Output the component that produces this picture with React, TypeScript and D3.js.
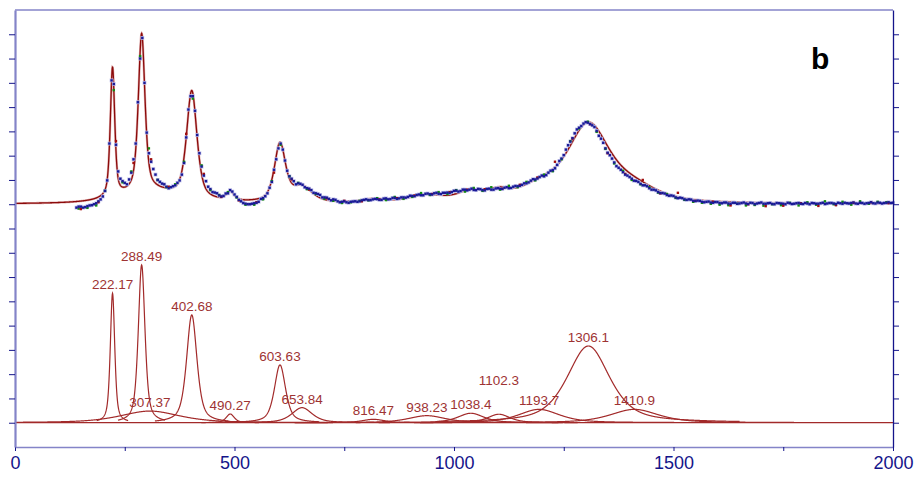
import { useEffect, useRef } from 'react';
import * as d3 from 'd3';

// fitted components (Raman shift, height above baseline, FWHM)
const peakCenters = [222.17, 288.49, 307.37, 402.68, 490.27, 603.63, 653.84, 816.47, 938.23, 1038.4, 1102.3, 1193.7, 1306.1, 1410.9];
const peakHeights = [5.33, 6.5, 0.48, 4.44, 0.36, 2.38, 0.62, 0.14, 0.29, 0.39, 0.35, 0.55, 3.16, 0.55];
const peakWidths = [12, 18, 160, 28, 22, 30, 55, 60, 100, 70, 60, 110, 115, 130];

const lowerBaseline = 1;
const upperBaseline = 10;

// measured spectrum, three acquisitions (blue one sampled twice as densely)
const blueStart = 140;
const blueStep = 10;
const blueObserved = [
  9.86, 9.9, 9.88, 9.95, 10.0, 10.12, 10.32, 10.98, 15.1, 12.45,
  11.05, 10.88, 11.02, 11.85, 14.2, 16.85, 12.95, 11.75, 11.22, 10.92,
  10.82, 10.66, 10.74, 10.88, 11.22, 12.75, 14.45, 13.85, 12.1, 11.18,
  10.72, 10.5, 10.45, 10.32, 10.44, 10.58, 10.4, 10.18, 10.05, 10.0,
  10.02, 10.06, 10.22, 10.33, 10.68, 11.42, 12.3, 12.25, 11.38, 11.05,
  10.82, 10.84, 10.7, 10.64, 10.47, 10.42, 10.28, 10.27, 10.16, 10.18,
  10.08, 10.12, 10.06, 10.11, 10.1, 10.16, 10.2, 10.17, 10.22, 10.18,
  10.23, 10.2, 10.26, 10.22, 10.28, 10.27, 10.35, 10.33, 10.4, 10.37,
  10.44, 10.4, 10.47, 10.42, 10.47, 10.46, 10.55, 10.52, 10.6, 10.57,
  10.64, 10.58, 10.62, 10.57, 10.64, 10.6, 10.66, 10.63, 10.7, 10.67,
  10.75, 10.76, 10.86, 10.9, 11.03, 11.06, 11.18, 11.2, 11.38, 11.48,
  11.78, 12.02, 12.43, 12.72, 13.08, 13.22, 13.38, 13.3, 13.18, 12.82,
  12.53, 12.12, 11.88, 11.57, 11.42, 11.22, 11.12, 10.97, 10.92, 10.78,
  10.74, 10.6, 10.57, 10.46, 10.44, 10.35, 10.34, 10.25, 10.25, 10.18,
  10.19, 10.13, 10.14, 10.08, 10.11, 10.06, 10.09, 10.04, 10.07, 10.02,
  10.06, 10.03, 10.07, 10.01, 10.05, 10.03, 10.07, 10.02, 10.05, 10.0,
  10.04, 10.02, 10.06, 10.01, 10.04, 10.02, 10.05, 10.0, 10.04, 10.02,
  10.06, 10.03, 10.05, 10.01, 10.04, 10.06, 10.03, 10.07, 10.02, 10.05,
  10.04, 10.08, 10.03, 10.06, 10.05, 10.08, 10.06,
];
const blueStart2 = 145;
const blueObserved2 = [
  9.9, 9.86, 9.92, 9.96, 10.04, 10.2, 10.55, 12.5, 14.95, 11.35,
  10.95, 10.82, 11.3, 12.5, 16.0, 15.0, 12.1, 11.45, 11.0, 10.85,
  10.72, 10.7, 10.78, 10.98, 11.7, 13.9, 14.45, 12.85, 11.55, 10.95,
  10.62, 10.48, 10.36, 10.34, 10.45, 10.52, 10.3, 10.12, 10.02, 10.0,
  10.04, 10.1, 10.25, 10.45, 10.92, 11.85, 12.5, 11.8, 11.15, 10.95,
  10.86, 10.8, 10.66, 10.58, 10.45, 10.38, 10.28, 10.22, 10.2, 10.12,
  10.1, 10.08, 10.1, 10.12, 10.12, 10.18, 10.17, 10.2, 10.21, 10.18,
  10.24, 10.21, 10.26, 10.24, 10.28, 10.3, 10.34, 10.38, 10.37, 10.43,
  10.41, 10.45, 10.43, 10.47, 10.48, 10.5, 10.56, 10.54, 10.6, 10.6,
  10.59, 10.63, 10.58, 10.63, 10.6, 10.65, 10.64, 10.68, 10.66, 10.72,
  10.74, 10.8, 10.86, 10.97, 11.02, 11.12, 11.15, 11.3, 11.4, 11.62,
  11.88, 12.25, 12.58, 12.92, 13.15, 13.32, 13.36, 13.25, 13.02, 12.7,
  12.3, 12.02, 11.72, 11.5, 11.32, 11.18, 11.05, 10.96, 10.84, 10.78,
  10.66, 10.6, 10.5, 10.46, 10.38, 10.36, 10.28, 10.27, 10.2, 10.2,
  10.14, 10.15, 10.1, 10.1, 10.07, 10.09, 10.05, 10.07, 10.03, 10.06,
  10.02, 10.05, 10.03, 10.06, 10.0, 10.05, 10.02, 10.04, 10.01, 10.05,
  10.03, 10.0, 10.04, 10.02, 10.05, 10.01, 10.03, 10.05, 10.02, 10.04,
  10.01, 10.05, 10.03, 10.06, 10.02, 10.04, 10.05, 10.03, 10.06, 10.02,
  10.05, 10.04, 10.07, 10.03, 10.06, 10.05,
];
const greenStart = 145;
const greenStep = 20;
const greenObserved = [
  9.82, 9.85, 9.95, 10.55, 14.7, 10.9, 11.35, 16.1, 12.3, 11.0,
  10.7, 10.82, 11.75, 14.35, 11.6, 10.58, 10.38, 10.5, 10.28, 9.98,
  9.98, 10.2, 10.95, 12.45, 11.15, 10.88, 10.62, 10.42, 10.22, 10.14,
  10.05, 10.08, 10.14, 10.16, 10.25, 10.17, 10.3, 10.22, 10.3, 10.46,
  10.38, 10.5, 10.42, 10.58, 10.52, 10.67, 10.55, 10.7, 10.6, 10.76,
  10.7, 10.92, 10.98, 11.22, 11.36, 11.85, 12.6, 13.12, 13.4, 12.98,
  12.28, 11.68, 11.38, 11.0, 10.82, 10.7, 10.48, 10.42, 10.26, 10.18,
  10.1, 10.06, 10.02, 9.98, 9.96, 10.02, 9.95, 9.97, 9.94, 10.0,
  9.96, 10.06, 9.95, 10.08, 9.98, 10.12, 10.0, 10.1, 9.98, 10.12,
  10.02, 10.1, 10.08,
];
const redStart = 150;
const redStep = 40;
const redObserved = [
  9.8, 10.08, 12.6, 11.7, 11.85, 10.72, 12.9, 11.25, 10.3, 10.16,
  10.08, 11.3, 11.02, 10.6, 10.24, 10.14, 10.12, 10.2, 10.25, 10.36,
  10.42, 10.5, 10.6, 10.62, 10.64, 10.8, 11.1, 11.75, 12.7, 13.3,
  12.1, 11.25, 11.0, 10.45, 10.47, 10.14, 10.1, 9.95, 10.0, 9.92,
  9.94, 10.04, 9.93, 9.96, 10.06, 10.08, 10.05,
];

const xTicks = [0, 250, 500, 750, 1000, 1250, 1500, 1750, 2000];
const xLabelled = [0, 500, 1000, 1500, 2000];
const yTicks = [1, 2, 3, 4, 5, 6, 7, 8, 9, 10, 11, 12, 13, 14, 15, 16, 17];

const W = 919;
const H = 477;
const FONT = "Arial, 'Liberation Sans', sans-serif";
const LAVENDER = '#8484c8';
const NAVY = '#14148a';
const FIT = '#8b0a0a';
const COMP = '#a22a2a';

// pseudo-Voigt peak shape
const profile = (v: number, i: number) => {
  const t = (2 * (v - peakCenters[i])) / peakWidths[i];
  const lor = 1 / (1 + t * t);
  const gau = Math.exp(-Math.LN2 * t * t);
  return peakHeights[i] * (0.6 * lor + 0.4 * gau);
};

const App = () => {
  const svgRef = useRef<SVGSVGElement>(null);

  useEffect(() => {
    if (!svgRef.current) return;
    const svg = d3.select(svgRef.current);
    svg.selectAll('*').remove();

    const x = d3.scaleLinear().domain([0, 2000]).range([15, 893]);
    const y = d3.scaleLinear().domain([0, 18]).range([447, 10]);

    const grid = d3.range(0, 2000.25, 0.5);
    const line = d3.line<[number, number]>().x(d => x(d[0])).y(d => y(d[1]));

    // lower: baseline + components
    svg.append('path')
      .attr('d', line([[0, lowerBaseline], [2000, lowerBaseline]]))
      .attr('fill', 'none').attr('stroke', COMP).attr('stroke-width', 1.2);

    peakCenters.forEach((c, i) => {
      const w = peakWidths[i];
      const pts = d3.range(Math.max(0, c - 3 * w), Math.min(2000, c + 3 * w), 0.5)
        .map(v => [v, lowerBaseline + profile(v, i)] as [number, number]);
      svg.append('path')
        .attr('d', line(pts))
        .attr('fill', 'none').attr('stroke', COMP).attr('stroke-width', 1.2);
    });

    // labels, lifted when they would collide with a neighbour
    const boxes: { x0: number; x1: number; y0: number; y1: number }[] = [];
    peakCenters.forEach((c, i) => {
      const cx = x(c);
      let base = y(lowerBaseline + peakHeights[i]) - 4;
      const t = svg.append('text')
        .attr('x', cx)
        .attr('text-anchor', 'middle')
        .style('font-family', FONT)
        .style('font-size', '13.5px')
        .attr('fill', '#9e3333')
        .text(String(c));
      const tw = (t.node() as SVGTextElement).getComputedTextLength();
      const x0 = cx - tw / 2;
      const x1 = cx + tw / 2;
      boxes.forEach(b => {
        const overlap = Math.min(x1, b.x1) - Math.max(x0, b.x0);
        if (overlap > 6 && base > b.y0 && base - 10 < b.y1) base = b.y0 - 14;
      });
      t.attr('y', base);
      boxes.push({ x0, x1, y0: base - 10, y1: base });
    });

    // upper: total fit and observed points
    const fit = grid.map(v => {
      let s = upperBaseline;
      peakCenters.forEach((_, i) => { s += profile(v, i); });
      return [v, s] as [number, number];
    });
    svg.append('path')
      .attr('d', line(fit))
      .attr('fill', 'none').attr('stroke', '#e2b4b4').attr('stroke-width', 2.4);
    svg.append('path')
      .attr('d', line(fit))
      .attr('fill', 'none').attr('stroke', FIT).attr('stroke-width', 1.3);

    const dots = (vals: number[], start: number, step: number, color: string, size: number) => {
      svg.append('g').selectAll('rect')
        .data(vals)
        .enter()
        .append('rect')
        .attr('x', (d, i) => x(start + i * step) - size / 2)
        .attr('y', d => y(d) - size / 2)
        .attr('width', size)
        .attr('height', size)
        .attr('fill', color);
    };

    dots(blueObserved, blueStart, blueStep, '#c0c0ea', 3.8);
    dots(blueObserved2, blueStart2, blueStep, '#c0c0ea', 3.8);
    dots(greenObserved, greenStart, greenStep, '#138a13', 2.4);
    dots(redObserved, redStart, redStep, '#a00d0d', 2.4);
    dots(blueObserved, blueStart, blueStep, '#1a1a96', 2.4);
    dots(blueObserved2, blueStart2, blueStep, '#1a1a96', 2.4);

    // frame and axes
    svg.append('line')
      .attr('x1', 15).attr('x2', 893).attr('y1', 10).attr('y2', 10)
      .attr('stroke', LAVENDER).attr('stroke-width', 1.5);

    const bottom = svg.append('g')
      .attr('transform', 'translate(0,447)')
      .call(d3.axisBottom(x).tickValues(xTicks).tickSize(4).tickSizeOuter(0).tickPadding(5)
        .tickFormat(d => (xLabelled.includes(+d) ? String(d) : '')));
    bottom.select('.domain').attr('stroke', LAVENDER).attr('stroke-width', 1.5);
    bottom.selectAll('.tick line').attr('stroke', NAVY);
    bottom.selectAll('.tick text')
      .attr('fill', NAVY)
      .style('font-family', FONT)
      .style('font-size', '18px');

    const left = svg.append('g')
      .attr('transform', 'translate(15,0)')
      .call(d3.axisLeft(y).tickValues(yTicks).tickSize(6).tickSizeOuter(0).tickFormat(() => ''));
    left.select('.domain').attr('stroke', LAVENDER).attr('stroke-width', 2.2);
    left.selectAll('.tick line').attr('stroke', NAVY);

    const right = svg.append('g')
      .attr('transform', 'translate(893,0)')
      .call(d3.axisRight(y).tickValues(yTicks).tickSize(6).tickSizeOuter(0).tickFormat(() => ''));
    right.select('.domain').attr('stroke', NAVY).attr('stroke-width', 1.3);
    right.selectAll('.tick line').attr('stroke', NAVY);

    svg.append('text')
      .attr('x', 811)
      .attr('y', 69)
      .style('font-family', FONT)
      .style('font-size', '30px')
      .style('font-weight', 'bold')
      .attr('fill', '#000')
      .text('b');
  }, []);

  return (
    <svg
      ref={svgRef}
      width={W}
      height={H}
      style={{ position: 'absolute', left: 0, top: 0, background: '#fff' }}
    />
  );
};

export default App;
